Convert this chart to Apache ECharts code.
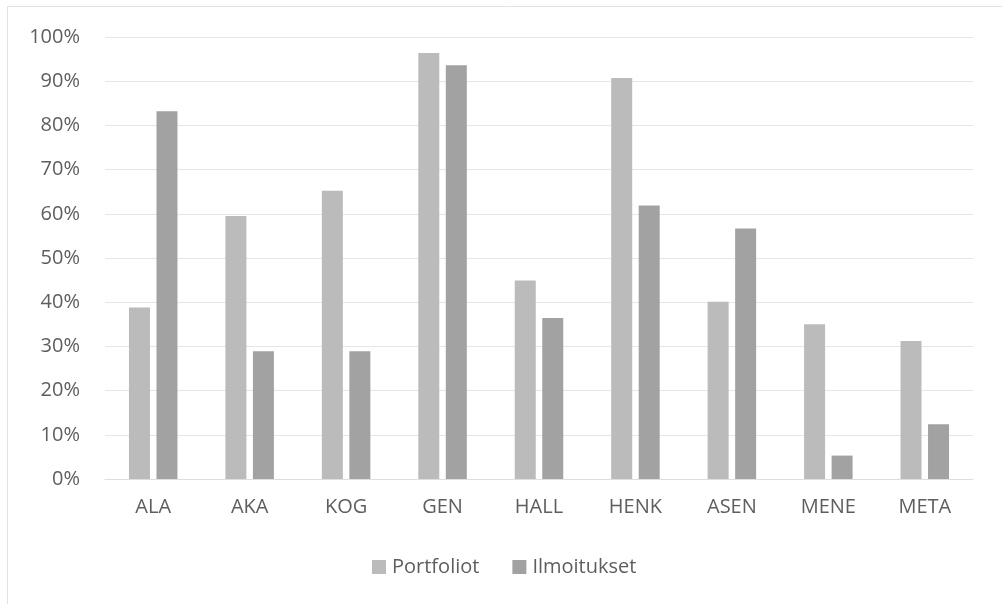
<!DOCTYPE html>
<html>
<head>
<meta charset="utf-8">
<script src="https://cdn.jsdelivr.net/npm/echarts@6/dist/echarts.min.js"></script>
<style>
  html, body { margin: 0; padding: 0; background: #ffffff; }
  #chart { width: 1002px; height: 604px; }
</style>
</head>
<body>
<div id="chart"></div>
<script>
// Categories and series values (percent)
const categories = ['ALA', 'AKA', 'KOG', 'GEN', 'HALL', 'HENK', 'ASEN', 'MENE', 'META'];
const portfoliot = [38.8, 59.5, 65.2, 96.4, 44.9, 90.7, 40.1, 35.0, 31.2];
const ilmoitukset = [83.2, 28.9, 28.9, 93.6, 36.4, 61.9, 56.7, 5.3, 12.4];
const seriesNames = ['Portfoliot', 'Ilmoitukset'];
const yTicks = { min: 0, max: 100, interval: 10 };

const FONT = '"Open Sans", "DejaVu Sans", sans-serif';
const TEXT = '#5e5e5e';

const chart = echarts.init(document.getElementById('chart'), null, { renderer: 'canvas' });

chart.setOption({
  animation: false,
  backgroundColor: '#ffffff',
  graphic: [{
    type: 'rect',
    shape: { x: 7.5, y: 6.5, width: 1010, height: 610 },
    style: { fill: 'none', stroke: '#e2e2e2', lineWidth: 1 },
    silent: true,
    z: -10
  }],
  grid: { left: 105, right: 29, top: 37, bottom: 125, containLabel: false },
  legend: {
    data: seriesNames,
    left: 367,
    top: 552,
    itemWidth: 14,
    itemHeight: 14,
    itemGap: 33,
    icon: 'rect',
    textStyle: { color: TEXT, fontFamily: FONT, fontSize: 20, padding: [0, 0, 0, 1] }
  },
  xAxis: {
    type: 'category',
    data: categories,
    axisLine: { show: true, lineStyle: { color: '#dedede', width: 1 } },
    axisTick: { show: false },
    axisLabel: { color: TEXT, fontFamily: FONT, fontSize: 20, margin: 18 }
  },
  yAxis: {
    type: 'value',
    min: yTicks.min,
    max: yTicks.max,
    interval: yTicks.interval,
    axisLine: { show: false },
    axisTick: { show: false },
    splitLine: { show: true, lineStyle: { color: '#e6e6e6', width: 1 } },
    axisLabel: { color: TEXT, fontFamily: FONT, fontSize: 20, margin: 25, formatter: '{value}%' }
  },
  series: [
    {
      name: seriesNames[0],
      type: 'bar',
      data: portfoliot,
      barWidth: 21,
      barGap: '31%',
      itemStyle: { color: '#bbbbbb' }
    },
    {
      name: seriesNames[1],
      type: 'bar',
      data: ilmoitukset,
      barWidth: 21,
      barGap: '31%',
      itemStyle: { color: '#a2a2a2' }
    }
  ]
});
</script>
</body>
</html>
